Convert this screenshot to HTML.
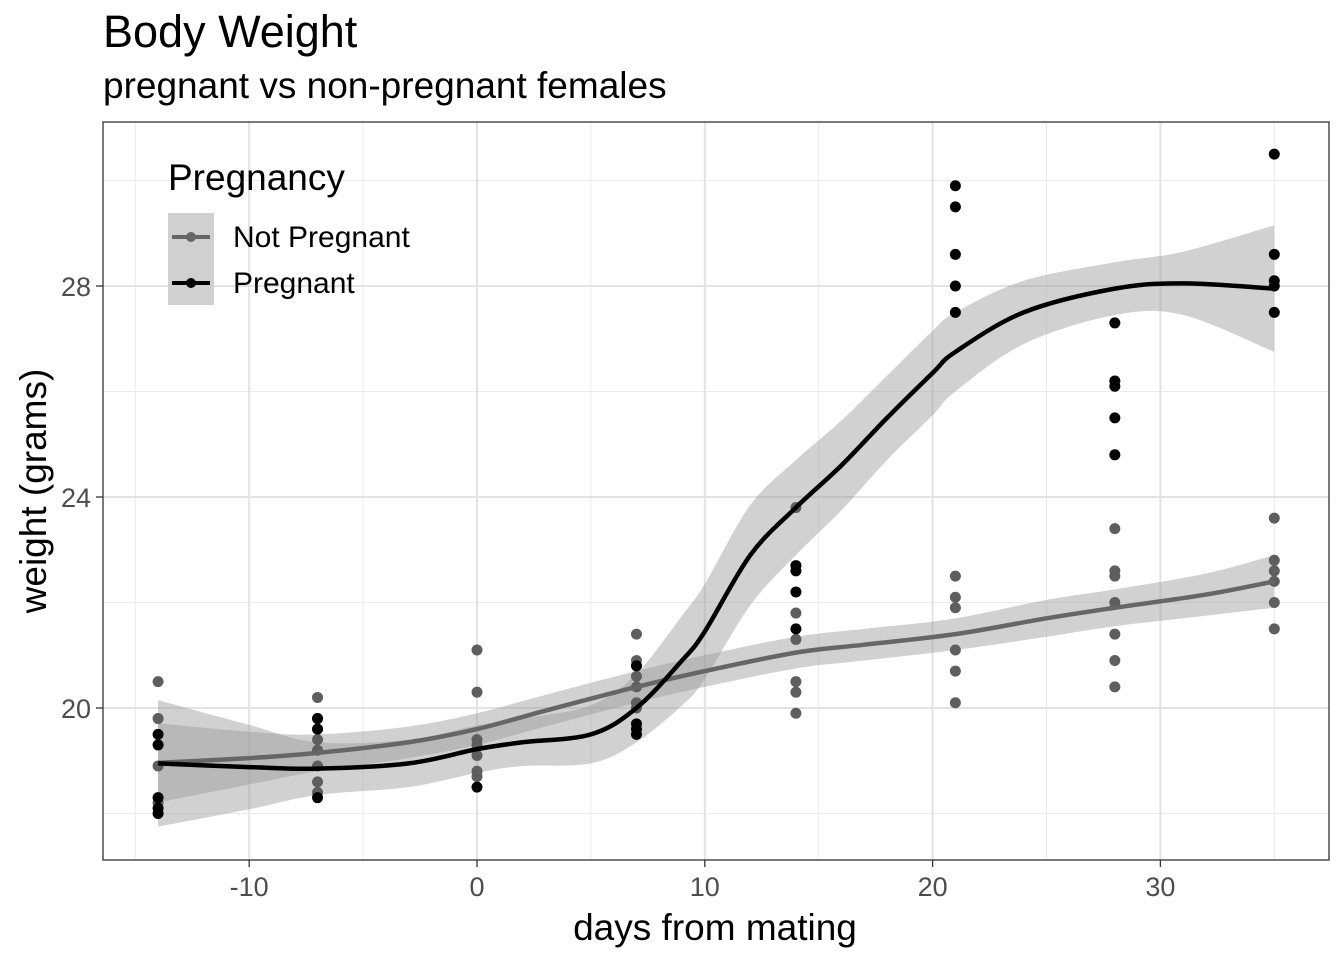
<!DOCTYPE html>
<html><head><meta charset="utf-8"><style>
body{margin:0;background:#fff;font-family:"Liberation Sans",Arial,sans-serif}
svg text{font-family:"Liberation Sans",Arial,sans-serif}
</style></head><body>
<svg id="c" width="1344" height="960" xmlns="http://www.w3.org/2000/svg">
<text x="103" y="47" font-size="45" fill="#000">Body Weight</text>
<text x="103" y="98" font-size="37" fill="#000">pregnant vs non-pregnant females</text>
<g id="grid"></g>
<g id="bands"></g>
<g id="pts"></g>
<g id="lines"></g>
<rect x="103" y="122" width="1226" height="738" fill="none" stroke="#333" stroke-width="1.3"/>
<g id="axes"></g>
<text x="715" y="940" font-size="37" text-anchor="middle">days from mating</text>
<text transform="translate(46,491) rotate(-90)" font-size="37" text-anchor="middle">weight (grams)</text>
<g>
<text x="168" y="190" font-size="37">Pregnancy</text>
<rect x="168" y="213" width="46" height="92" fill="#d0d0d0"/>
<g><line x1="172" y1="237" x2="210" y2="237" stroke="#666" stroke-width="4"/><circle cx="191" cy="237" r="5" fill="#666"/><text x="233" y="247" font-size="30">Not Pregnant</text></g>
<g><line x1="172" y1="283" x2="210" y2="283" stroke="#000" stroke-width="4"/><circle cx="191" cy="283" r="5" fill="#000"/><text x="233" y="293" font-size="30">Pregnant</text></g>
</g>
</svg>
<script>
const NS="http://www.w3.org/2000/svg";
const xTicks=[-10,0,10,20,30];
const xMinor=[-15,-5,5,15,25,35];
const yTicks=[20,24,28];
const yMinor=[18,22,26,30];
const notPregX=[-14,-14,-14,-14,-7,-7,-7,-7,-7,-7,-7,-7,0,0,0,0,0,0,0,7,7,7,7,7,7,7,14,14,14,14,14,14,21,21,21,21,21,21,28,28,28,28,28,28,28,35,35,35,35,35,35];
const notPregY=[20.5,19.8,18.9,18.2,20.2,19.8,19.6,19.4,19.2,18.9,18.6,18.4,21.1,20.3,19.4,19.3,19.1,18.8,18.7,21.4,20.9,20.8,20.6,20.4,20.1,20.0,23.8,21.8,21.3,20.5,20.3,19.9,22.5,22.1,21.9,21.1,20.7,20.1,23.4,22.6,22.5,22.0,21.4,20.9,20.4,23.6,22.8,22.6,22.4,22.0,21.5];
const pregX=[-14,-14,-14,-14,-14,-7,-7,-7,0,7,7,7,7,14,14,14,14,21,21,21,21,21,28,28,28,28,28,35,35,35,35,35];
const pregY=[19.5,19.3,18.3,18.1,18.0,19.8,19.6,18.3,18.5,20.8,19.7,19.6,19.5,22.7,22.6,22.2,21.5,29.9,29.5,28.6,28.0,27.5,27.3,26.2,26.1,25.5,24.8,30.5,28.6,28.1,28.0,27.5];
const npFitX=[-14,-10,-7,-3,0,3,7,10,14,17,21,25,28,32,35];
const npFitY=[18.96,19.05,19.15,19.35,19.6,19.95,20.4,20.7,21.05,21.2,21.4,21.7,21.9,22.15,22.4];
const npSe=[0.75,0.5,0.35,0.3,0.3,0.3,0.3,0.3,0.3,0.3,0.3,0.35,0.35,0.4,0.5];
const pFitX=[-14,-10,-7,-3,0,2,5,7,9,10,12,14,16,18,20,21,24,28,31,35];
const pFitY=[18.95,18.88,18.85,18.95,19.22,19.35,19.5,20.0,20.9,21.45,22.9,23.8,24.6,25.5,26.35,26.75,27.5,27.95,28.05,27.95];
const pSe=[1.2,0.8,0.5,0.45,0.45,0.45,0.55,0.65,0.85,0.9,0.95,0.9,0.85,0.8,0.8,0.75,0.6,0.5,0.6,1.2];
const X=d=>477+d*22.78, Y=v=>708-(v-20)*52.75;
function el(t,a,p){const e=document.createElementNS(NS,t);for(const k in a)e.setAttribute(k,a[k]);document.getElementById(p).appendChild(e);return e;}
xMinor.forEach(d=>{const e=el('line',{x1:X(d),x2:X(d),y1:122,y2:860,stroke:'#ebebeb','stroke-width':1},'grid');

});
yMinor.forEach(v=>{const e=el('line',{x1:103,x2:1329,y1:Y(v),y2:Y(v),stroke:'#ebebeb','stroke-width':1},'grid');

});
xTicks.forEach(d=>{const e=el('line',{x1:X(d),x2:X(d),y1:122,y2:860,stroke:'#e3e3e3','stroke-width':2},'grid');


const t=el('line',{x1:X(d),x2:X(d),y1:860,y2:867,stroke:'#333','stroke-width':1.3},'axes');


const l=el('text',{x:X(d),y:896,'font-size':27,fill:'#4d4d4d','text-anchor':'middle'},'axes');l.textContent=d;

});
yTicks.forEach(v=>{const e=el('line',{x1:103,x2:1329,y1:Y(v),y2:Y(v),stroke:'#e3e3e3','stroke-width':2},'grid');


const t=el('line',{x1:96,x2:103,y1:Y(v),y2:Y(v),stroke:'#333','stroke-width':1.3},'axes');


const l=el('text',{x:91,y:Y(v)+10,'font-size':27,fill:'#4d4d4d','text-anchor':'end'},'axes');l.textContent=v;

});
function smooth(xs,ys){const p=xs.map((x,i)=>[X(x),Y(ys[i])]);let d='M'+p[0][0]+','+p[0][1];
for(let i=0;i<p.length-1;i++){const p0=p[i-1]||p[i],p1=p[i],p2=p[i+1],p3=p[i+2]||p2;
d+=' C'+(p1[0]+(p2[0]-p0[0])/6)+','+(p1[1]+(p2[1]-p0[1])/6)+' '+(p2[0]-(p3[0]-p1[0])/6)+','+(p2[1]-(p3[1]-p1[1])/6)+' '+p2[0]+','+p2[1];}return d;}
function band(xs,ys,se,name){const up=ys.map((y,i)=>y+se[i]),lo=ys.map((y,i)=>y-se[i]);
const a=smooth(xs,up);const rx=xs.slice().reverse(),rl=lo.slice().reverse();const b=smooth(rx,rl).replace('M','L');
const e=el('path',{d:a+' '+b+' Z',fill:'#999','fill-opacity':0.45},'bands');

}
band(npFitX,npFitY,npSe,'not-pregnant-band');
band(pFitX,pFitY,pSe,'pregnant-band');
notPregX.forEach((d,i)=>{const e=el('circle',{cx:X(d),cy:Y(notPregY[i]),r:5.5,fill:'#5e5e5e'},'pts');

});
pregX.forEach((d,i)=>{const e=el('circle',{cx:X(d),cy:Y(pregY[i]),r:5.5,fill:'#000'},'pts');

});
const l1=el('path',{d:smooth(npFitX,npFitY),fill:'none',stroke:'#666','stroke-width':4.5},'lines');


const l2=el('path',{d:smooth(pFitX,pFitY),fill:'none',stroke:'#000','stroke-width':4.5},'lines');


</script>
</body></html>
